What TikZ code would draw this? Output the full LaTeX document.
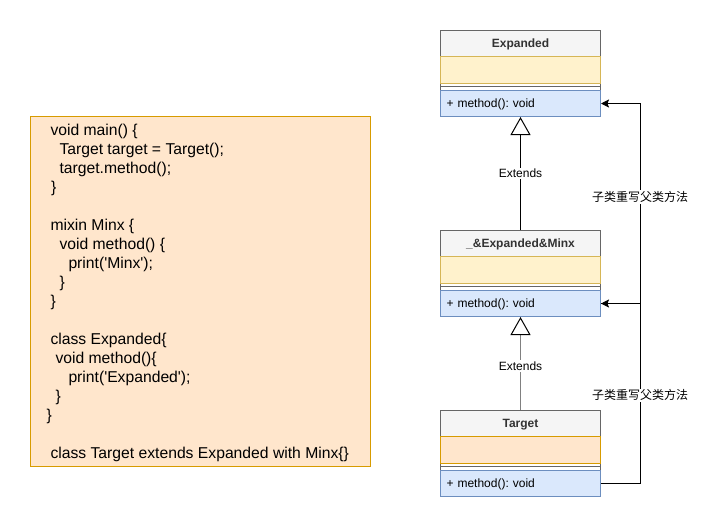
\documentclass[tikz,border=0pt]{standalone}
\usepackage{fontspec}
\setmainfont{Liberation Sans}
\newfontfamily\cjk{Noto Sans CJK SC}
\usetikzlibrary{arrows.meta}
\definecolor{hdrfill}{HTML}{F5F5F5}
\definecolor{hdrdraw}{HTML}{666666}
\definecolor{yfill}{HTML}{FFF2CC}
\definecolor{ydraw}{HTML}{D6B656}
\definecolor{ofill}{HTML}{FFE6CC}
\definecolor{odraw}{HTML}{D79B00}
\definecolor{bfill}{HTML}{DAE8FC}
\definecolor{bdraw}{HTML}{6C8EBF}
\definecolor{hdrtext}{HTML}{333333}
\definecolor{midgray}{HTML}{808080}
\begin{document}
\frenchspacing
\begin{tikzpicture}[x=1pt,y=-1pt, line width=1pt,
  hdr/.style={draw=hdrdraw, fill=hdrfill, minimum width=160pt, minimum height=26pt, anchor=north west, inner sep=0pt, font=\fontsize{12}{14}\selectfont\bfseries, text=hdrtext, text height=9pt, text depth=1pt},
  attr/.style={minimum width=160pt, minimum height=26.7pt, anchor=north west, inner sep=0pt},
  meth/.style={draw=bdraw, fill=bfill, minimum width=160pt, minimum height=26pt, anchor=north west, inner sep=0pt, text width=148pt, align=left, font=\fontsize{12}{14}\selectfont\frenchspacing, text height=9pt, text depth=1pt},
  outer/.style={draw=hdrdraw, fill=white},
  code/.style={anchor=base west, inner sep=0pt, font=\fontsize{15.7}{19}\selectfont},
  lbl/.style={fill=white, inner sep=1.5pt, font=\fontsize{12}{14}\selectfont},
  cjklbl/.style={fill=white, inner sep=1pt, font=\cjk\fontsize{12}{14}\selectfont},
  inherit/.style={-{Triangle[length=18pt,width=20pt,fill=white,color=black]}},
  override/.style={-{Stealth[length=8pt,width=8pt,inset=1.5pt]}}
]
\useasboundingbox[fill=white] (0,0) rectangle (722,530);

% code box
\node[draw=odraw, fill=ofill, minimum width=340pt, minimum height=350pt, anchor=north west, inner sep=0pt] (codebox) at (30,116) {};
\node[code] (l1) at (50,135) {void main() \{};
\node[code] (l2) at (59,154) {Target target = Target();};
\node[code] (l3) at (59,173) {target.method();};
\node[code] (l4) at (50.5,192) {\}};
\node[code] (l6) at (50,230) {mixin Minx \{};
\node[code] (l7) at (59,249) {void method() \{};
\node[code] (l8) at (68,268) {print(\textquotesingle Minx\textquotesingle);};
\node[code] (l9) at (59,287) {\}};
\node[code] (l10) at (50,306) {\}};
\node[code] (l12) at (50,344) {class Expanded\{};
\node[code] (l13) at (55,363) {void method()\{};
\node[code] (l14) at (68,382) {print(\textquotesingle Expanded\textquotesingle);};
\node[code] (l15) at (55,401) {\}};
\node[code] (l16) at (46,420) {\}};
\node[code] (l18) at (50,458) {class Target extends Expanded with Minx\{\}};

% class Expanded
\draw[outer] (440,30) rectangle (600,116);
\node[hdr] (exph) at (440,30) {Expanded};
\node[attr, draw=ydraw, fill=yfill] (expa) at (440,56) {};
\draw[hdrdraw] (440,86.3) -- (600,86.3);
\node[meth] (expm) at (440,90) {+ method(): void};

% class _&Expanded&Minx
\draw[outer] (440,230) rectangle (600,316);
\node[hdr] (midh) at (440,230) {\_\&Expanded\&Minx};
\node[attr, draw=ydraw, fill=yfill] (mida) at (440,256) {};
\draw[hdrdraw] (440,286.3) -- (600,286.3);
\node[meth] (midm) at (440,290) {+ method(): void};

% class Target
\draw[outer] (440,410) rectangle (600,496);
\node[hdr] (tgth) at (440,410) {Target};
\node[attr, draw=odraw, fill=ofill] (tgta) at (440,436) {};
\draw[hdrdraw] (440,466.3) -- (600,466.3);
\node[meth] (tgtm) at (440,470) {+ method(): void};

% inheritance
\draw[inherit] (midh.north) -- node[lbl] {Extends} (expm.south);
\draw[inherit, draw=midgray] (tgth.north) -- node[lbl, pos=0.47] {Extends} (midm.south);

% overrides
\coordinate (rx) at (640,0);
\draw[override] (midm.east) -- (midm.east -| rx) -- node[cjklbl, pos=0.5325] {子类重写父类方法} (expm.east -| rx) -- (expm.east);
\draw[override] (tgtm.east) -- (tgtm.east -| rx) -- node[cjklbl, pos=0.49] {子类重写父类方法} (midm.east -| rx) -- (midm.east);
\end{tikzpicture}
\end{document}
